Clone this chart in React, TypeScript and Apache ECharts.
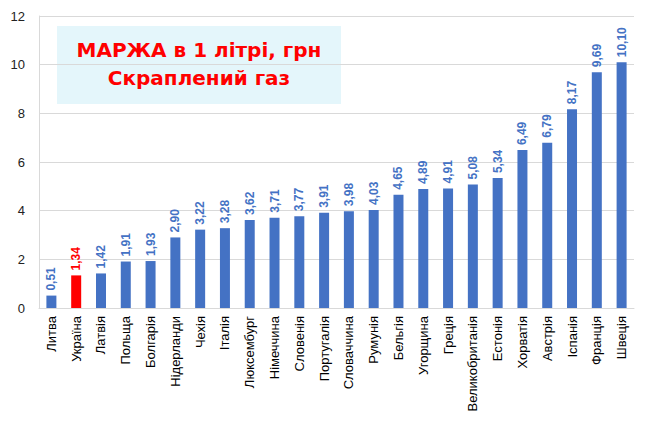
import { useRef, useEffect } from 'react';
import * as echarts from 'echarts';

const countries = [
  'Литва', 'Україна', 'Латвія', 'Польща', 'Болгарія', 'Нідерланди', 'Чехія', 'Італія',
  'Люксембург', 'Німеччина', 'Словенія', 'Португалія', 'Словаччина', 'Румунія', 'Бельгія',
  'Угорщина', 'Греція', 'Великобританія', 'Естонія', 'Хорватія', 'Австрія', 'Іспанія',
  'Франція', 'Швеція',
];
const margins = [
  0.51, 1.34, 1.42, 1.91, 1.93, 2.9, 3.22, 3.28, 3.62, 3.71, 3.77, 3.91, 3.98, 4.03, 4.65,
  4.89, 4.91, 5.08, 5.34, 6.49, 6.79, 8.17, 9.69, 10.1,
];
const highlight = 'Україна';
const titleLines = ['МАРЖА в 1 літрі, грн', 'Скраплений газ'];

const BLUE = '#4472C4';
const RED = '#FF0000';

export default function App() {
  const containerRef = useRef<HTMLDivElement>(null);

  useEffect(() => {
    if (!containerRef.current) return;
    const chart = echarts.init(containerRef.current, null, { renderer: 'svg' });

    chart.setOption({
      animation: false,
      backgroundColor: '#fff',
      textStyle: { fontFamily: 'Liberation Sans' },
      grid: { left: 39, right: 16, top: 16, bottom: 120 },
      xAxis: {
        type: 'category',
        data: countries,
        axisLine: { lineStyle: { color: '#d9d9d9' } },
        axisTick: { show: false },
        axisLabel: { rotate: 90, fontSize: 13, color: '#000', interval: 0, margin: 8 },
      },
      yAxis: {
        type: 'value',
        min: 0,
        max: 12,
        interval: 2,
        axisLine: { show: true, lineStyle: { color: '#d9d9d9' } },
        axisLabel: { fontSize: 13, color: '#222', margin: 14 },
        splitLine: { lineStyle: { color: '#d9d9d9' } },
      },
      series: [
        {
          type: 'bar',
          barWidth: 10,
          data: margins.map((v, i) => ({
            value: v,
            itemStyle: { color: countries[i] === highlight ? RED : BLUE },
            label: { color: countries[i] === highlight ? RED : BLUE },
          })),
          label: {
            show: true,
            position: 'top',
            rotate: 90,
            align: 'left',
            verticalAlign: 'middle',
            distance: 5,
            fontSize: 12,
            fontWeight: 'bold',
            formatter: (p: any) => (p.value as number).toFixed(2).replace('.', ','),
          },
        },
      ],
      graphic: [
        {
          type: 'rect',
          left: 57,
          top: 26,
          shape: { width: 284, height: 78 },
          style: { fill: '#E4F6FB' },
        },
        {
          type: 'text',
          x: 199,
          y: 50,
          style: {
            text: titleLines[0],
            fill: RED,
            font: 'bold 20px "DejaVu Sans"',
            align: 'center',
            verticalAlign: 'middle',
          },
        },
        {
          type: 'text',
          x: 199,
          y: 78,
          style: {
            text: titleLines[1],
            fill: RED,
            font: 'bold 20px "DejaVu Sans"',
            align: 'center',
            verticalAlign: 'middle',
          },
        },
      ],
    });

    return () => {
      chart.dispose();
    };
  }, []);

  return <div ref={containerRef} style={{ width: 650, height: 428, margin: -8 }} />;
}
